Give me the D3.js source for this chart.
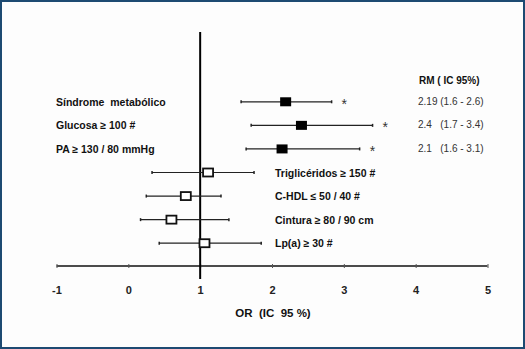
<!DOCTYPE html>
<html>
<head>
<meta charset="utf-8">
<script src="https://cdn.jsdelivr.net/npm/d3@7"></script>
<style>
  html, body { margin: 0; padding: 0; background: #fff; }
  svg { display: block; font-family: Arial, "Liberation Sans", sans-serif; }
  text { white-space: pre; }
</style>
</head>
<body>
<div id="view"></div>
<script>
// ---- data ----
const labels = ["Síndrome  metabólico", "Glucosa ≥ 100 #", "PA ≥ 130 / 80 mmHg",
  "Triglicéridos ≥ 150 #", "C-HDL ≤ 50 / 40 #", "Cintura ≥ 80 / 90 cm", "Lp(a) ≥ 30 #"];
const orValues = [2.19, 2.41, 2.14, 1.11, 0.80, 0.60, 1.06];
const ciLow    = [1.57, 1.71, 1.64, 0.33, 0.25, 0.17, 0.43];
const ciHigh   = [2.83, 3.40, 3.22, 1.75, 1.29, 1.40, 1.85];
const significant = [true, true, true, false, false, false, false];
const rmText = ["2.19 (1.6 - 2.6)", "2.4   (1.7 - 3.4)", "2.1   (1.6 - 3.1)"];
const xTicks = [-1, 0, 1, 2, 3, 4, 5];

const W = 525, H = 349;
const svg = d3.select("#view").append("svg").attr("width", W).attr("height", H);

// frame
svg.append("rect").attr("x", 1).attr("y", 1).attr("width", W - 2).attr("height", H - 2)
  .attr("fill", "#fdfdfd").attr("stroke", "#1d4a72").attr("stroke-width", 2);

const x = d3.scaleLinear().domain([-1, 5]).range([56.5, 487.5]);
const y = d3.scaleBand().domain(d3.range(labels.length)).range([90, 255]).paddingInner(0);
const yc = i => y(i) + y.bandwidth() / 2;
const axisY = 266;

// x axis
const ax = svg.append("g").attr("transform", `translate(0,${axisY})`)
  .call(d3.axisBottom(x).tickValues(xTicks).tickSize(3).tickPadding(17).tickFormat(d => String(d)));
ax.select(".domain").attr("stroke", "#111").attr("stroke-width", 1.6).attr("d", `M${x(-1)},0H${x(5)}`);
ax.selectAll(".tick line").attr("stroke", "#555").attr("y1", -2).attr("y2", 2);
ax.selectAll(".tick text").attr("fill", "#222").style("font-size", "11px").style("font-weight", "bold")
  .attr("font-family", "Arial, 'Liberation Sans', sans-serif");

svg.append("text").attr("x", 273).attr("y", 317).attr("text-anchor", "middle")
  .style("font-size", "11.5px").style("font-weight", "bold").attr("fill", "#111")
  .text("OR  (IC  95 %)");

// reference line at OR = 1
svg.append("line").attr("x1", x(1)).attr("x2", x(1)).attr("y1", 32).attr("y2", 279)
  .attr("stroke", "#000").attr("stroke-width", 2);

const rows = svg.append("g").selectAll("g").data(labels).join("g");

// CI whiskers
rows.append("line")
  .attr("x1", (d, i) => x(ciLow[i])).attr("x2", (d, i) => x(ciHigh[i]))
  .attr("y1", (d, i) => yc(i)).attr("y2", (d, i) => yc(i))
  .attr("stroke", "#222").attr("stroke-width", 1.2);
rows.each(function (d, i) {
  const g = d3.select(this);
  [ciLow[i], ciHigh[i]].forEach(v => g.append("line")
    .attr("x1", x(v)).attr("x2", x(v)).attr("y1", yc(i) - 1.5).attr("y2", yc(i) + 1.5)
    .attr("stroke", "#222").attr("stroke-width", 1.5));
});

// point estimates
rows.append("rect")
  .attr("x", (d, i) => x(orValues[i]) - (significant[i] ? 5.5 : 5))
  .attr("y", (d, i) => yc(i) - (significant[i] ? 4.5 : 4))
  .attr("width", (d, i) => significant[i] ? 11 : 10)
  .attr("height", (d, i) => significant[i] ? 9 : 8)
  .attr("fill", (d, i) => significant[i] ? "#000" : "#fff")
  .attr("stroke", "#111").attr("stroke-width", (d, i) => significant[i] ? 0 : 1.8);

// asterisks
rows.filter((d, i) => significant[i]).append("text")
  .attr("x", (d, i) => x(ciHigh[i]) + 10)
  .attr("y", (d, i) => yc(i) + 7)
  .attr("fill", "#333").style("font-size", "14px")
  .text("*");

// labels
rows.append("text")
  .attr("x", (d, i) => significant[i] ? 56 : 275)
  .attr("y", (d, i) => yc(i) + 4)
  .attr("fill", "#111").style("font-size", "10.5px").style("font-weight", "bold")
  .text(d => d);

// RM column
svg.append("text").attr("x", 419).attr("y", 84)
  .style("font-size", "10px").style("font-weight", "bold").attr("fill", "#111")
  .text("RM ( IC 95%)");
svg.append("g").selectAll("text").data(rmText).join("text")
  .attr("x", 418).attr("y", (d, i) => yc(i) + 3)
  .style("font-size", "10px").attr("fill", "#333")
  .text(d => d);
</script>
</body>
</html>
